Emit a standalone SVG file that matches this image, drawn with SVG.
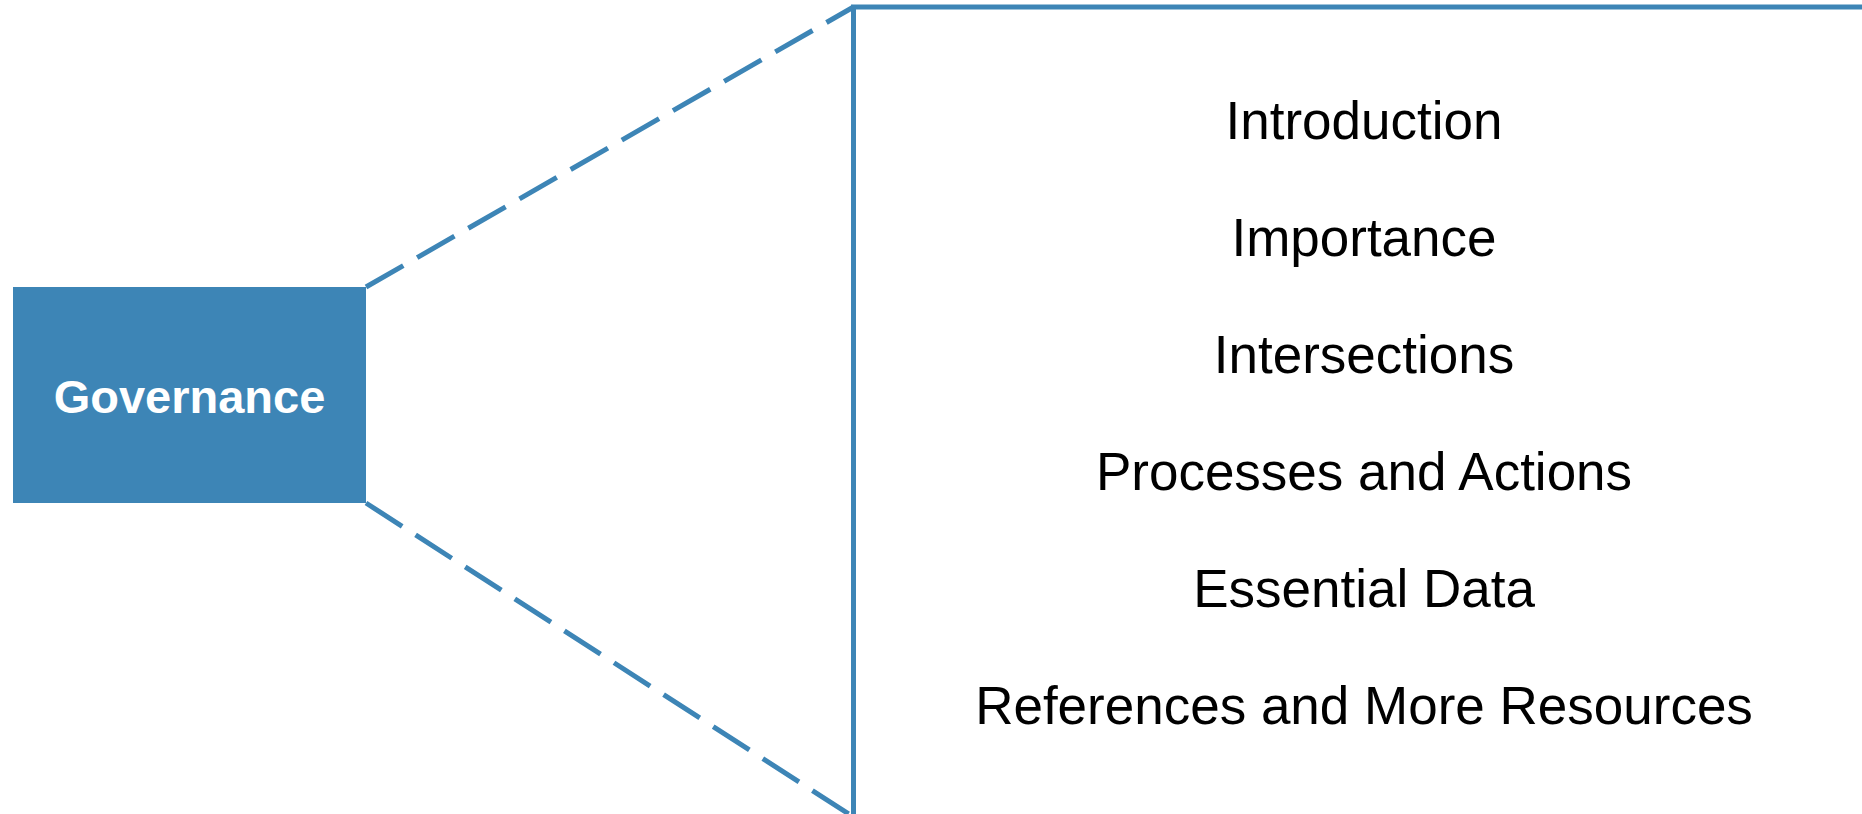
<svg xmlns="http://www.w3.org/2000/svg" width="1862" height="814" viewBox="0 0 1862 814">
  <style>
    .edge { fill: none; stroke: #3d85b6; stroke-width: 5; }
    .dash { stroke-dasharray: 43 16; }
    .topic { font-family: "Liberation Sans", Arial, sans-serif; font-size: 53px; fill: #000; text-anchor: middle; }
    .title { font-family: "Liberation Sans", Arial, sans-serif; font-size: 47px; font-weight: bold; fill: #fff; text-anchor: middle; }
  </style>
  <rect width="1862" height="814" fill="#fff"/>

  <!-- zoom connectors from the box to the outline panel -->
  <g id="connectors">
    <line class="edge dash" x1="366" y1="287" x2="853.5" y2="7"/>
    <line class="edge dash" x1="366" y1="503" x2="853.5" y2="817"/>
  </g>

  <!-- source box -->
  <g id="governance">
    <rect x="13" y="287" width="353" height="216" fill="#3d85b6"/>
    <text class="title" x="189.5" y="413">Governance</text>
  </g>

  <!-- outline panel with section list -->
  <g id="outline">
    <polyline class="edge" points="853.5,814 853.5,7 1862,7"/>
    <text class="topic" x="1364" y="139">Introduction</text>
    <text class="topic" x="1364" y="256">Importance</text>
    <text class="topic" x="1364" y="373">Intersections</text>
    <text class="topic" x="1364" y="490">Processes and Actions</text>
    <text class="topic" x="1364" y="607">Essential Data</text>
    <text class="topic" x="1364" y="724">References and More Resources</text>
  </g>
</svg>
